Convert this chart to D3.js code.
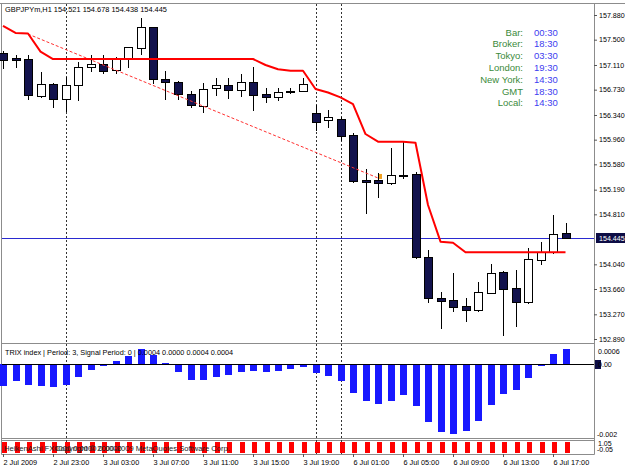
<!DOCTYPE html>
<html>
<head>
<meta charset="utf-8">
<script src="https://cdn.jsdelivr.net/npm/d3@7"></script>
<style>
  body { margin: 0; background: #fff; }
  svg { display: block; font-family: "Liberation Sans", Arial, sans-serif; }
</style>
</head>
<body>
<div id="chart"></div>
<script>
// GBPJPYm H1 bars, 2 Jul 2009 19:00 .. 6 Jul 2009 17:00
const opens  = [157.295,157.225,157.202,156.632,156.817,156.586,156.797,157.074,157.125,157.022,
                157.213,157.367,157.691,156.894,156.848,156.659,156.483,156.751,156.797,156.720,
                156.844,156.659,156.612,156.717,156.710,156.366,156.252,156.278,156.032,155.339,
                155.339,155.288,155.390,155.431,154.148,153.526,153.491,153.398,153.337,153.603,
                153.927,153.671,153.455,154.107,154.225,154.521];
const highs  = [157.326,157.264,157.264,156.998,156.837,156.930,157.151,157.264,157.264,157.238,
                157.387,157.829,157.700,157.022,156.864,156.710,156.828,156.905,156.905,156.971,
                157.074,156.760,156.751,156.751,156.905,156.494,156.417,156.309,156.058,155.504,
                155.442,155.827,155.944,155.467,154.261,153.618,153.902,153.517,153.773,154.045,
                153.942,153.953,154.287,154.389,154.800,154.678];
const lows   = [157.064,157.084,156.582,156.612,156.458,156.401,156.571,157.022,156.982,156.982,
                157.084,157.275,156.828,156.586,156.586,156.458,156.382,156.648,156.597,156.632,
                156.417,156.545,156.571,156.683,156.702,156.109,156.150,155.955,155.313,154.835,
                155.072,155.280,155.377,154.140,153.464,153.055,153.321,153.172,153.326,153.598,
                152.952,153.090,153.452,154.041,154.220,154.438];
const closes = [157.187,157.195,156.648,156.817,156.586,156.797,157.074,157.125,157.017,157.213,
                157.383,157.691,156.890,156.844,156.663,156.483,156.745,156.797,156.725,156.844,
                156.648,156.606,156.694,156.705,156.817,156.228,156.305,156.021,155.323,155.313,
                155.288,155.411,155.411,154.148,153.517,153.480,153.388,153.337,153.609,153.911,
                153.660,153.455,154.118,154.235,154.503,154.445];

// red stop line
const stopLine = [157.711,157.603,157.595,157.315,157.202,157.202,157.202,157.202,157.202,157.202,
                  157.202,157.202,157.202,157.202,157.202,157.202,157.202,157.202,157.202,157.202,
                  157.202,157.110,157.044,157.022,157.022,156.740,156.686,156.612,156.509,156.047,
                  155.929,155.929,155.929,155.913,154.954,154.389,154.373,154.225,154.225,154.225,
                  154.225,154.225,154.225,154.225,154.225,154.225];

// dashed trend line: [bar, price]
const trendLine = [[2, 157.587], [30, 155.370]];

// TRIX histogram
const trixValues = [-0.00073,-0.00058,-0.00071,-0.00073,-0.00079,-0.00070,-0.00045,-0.00020,-0.00008, 0.00010,
                     0.00028, 0.00051, 0.00030, 0.00003,-0.00026,-0.00053,-0.00053,-0.00045,-0.00036,-0.00026,
                    -0.00024,-0.00026,-0.00024,-0.00017,-0.00009,-0.00029,-0.00041,-0.00058,-0.00099,-0.00124,
                    -0.00135,-0.00124,-0.00104,-0.00143,-0.00196,-0.00228,-0.00236,-0.00225,-0.00191,-0.00139,
                    -0.00101,-0.00087,-0.00047,-0.00008, 0.00034, 0.00053];

const priceTicks = [157.880,157.500,157.110,156.730,156.340,155.960,155.580,155.190,154.810,154.040,153.660,153.270,152.890];
const timeLabels = ["2 Jul 2009","2 Jul 23:00","3 Jul 03:00","3 Jul 07:00","3 Jul 11:00","3 Jul 15:00",
                    "3 Jul 19:00","6 Jul 01:00","6 Jul 05:00","6 Jul 09:00","6 Jul 13:00","6 Jul 17:00"];
const labelBars = [0,4,8,12,16,20,24,28,32,36,40,44];
const separatorBars = [5, 25, 27];

const clockNames = ["Bar:","Broker:","Tokyo:","London:","New York:","GMT","Local:"];
const clockTimes = ["00:30","18:30","03:30","19:30","14:30","18:30","14:30"];

document.addEventListener("DOMContentLoaded", function() {

  const width = 625;
  const height = 469;
  const plotRight = 594;

  const svg = d3.select('#chart').append('svg')
    .attr('width', width)
    .attr('height', height);

  const x = d3.scaleLinear().domain([0, 45]).range([3, 565.5]);
  const y = d3.scaleLinear().domain([152.89, 157.88]).range([339, 15]);
  const yT = d3.scaleLinear().domain([-0.00245, 0.00065]).range([437, 345]);

  const px = i => Math.round(x(i)) + 0.5;
  const bars = d3.range(opens.length);

  //-------------------------FRAMES-------------------------
  const frame = svg.append('g').attr('fill', 'none').attr('stroke', '#8c8c8c');
  frame.append('line').attr('x1', 0).attr('x2', width).attr('y1', 3.5).attr('y2', 3.5);
  frame.append('line').attr('x1', 1.5).attr('x2', 1.5).attr('y1', 3.5).attr('y2', 454.5);
  frame.append('line').attr('x1', plotRight + 0.5).attr('x2', plotRight + 0.5).attr('y1', 3.5).attr('y2', 454.5);
  [343.5, 438.5, 440.5, 454.5].forEach(v => {
    frame.append('line').attr('x1', 1.5).attr('x2', plotRight + 0.5).attr('y1', v).attr('y2', v);
  });

  // period separators
  svg.append('g')
    .selectAll('line')
    .data(separatorBars)
    .join('line')
    .attr('x1', d => px(d)).attr('x2', d => px(d))
    .attr('y1', 4).attr('y2', 454)
    .attr('stroke', '#333')
    .attr('stroke-dasharray', '2,2');

  //-------------------------MAIN PANEL-------------------------
  const main = svg.append('g');

  // current price line
  main.append('line')
    .attr('x1', 2).attr('x2', plotRight)
    .attr('y1', Math.round(y(closes[45])) + 0.5).attr('y2', Math.round(y(closes[45])) + 0.5)
    .attr('stroke', '#2a2ad0');

  const candles = main.append('g').selectAll('g').data(bars).join('g');

  candles.append('line')
    .attr('x1', d => px(d)).attr('x2', d => px(d))
    .attr('y1', d => Math.round(y(highs[d]))).attr('y2', d => Math.round(y(lows[d])) + 1)
    .attr('stroke', '#000');

  candles.append('rect')
    .attr('x', d => px(d) - 4)
    .attr('width', 8)
    .attr('y', d => Math.round(y(Math.max(opens[d], closes[d]))) + 0.5)
    .attr('height', d => Math.max(1, Math.round(Math.abs(y(opens[d]) - y(closes[d])))))
    .attr('fill', d => closes[d] >= opens[d] ? '#fff' : '#12124d')
    .attr('stroke', '#000');

  // dashed trend line
  main.append('line')
    .attr('x1', x(trendLine[0][0])).attr('y1', y(trendLine[0][1]))
    .attr('x2', x(trendLine[1][0])).attr('y2', y(trendLine[1][1]))
    .attr('stroke', '#ff3030')
    .attr('stroke-dasharray', '3,2');

  main.append('rect')
    .attr('x', x(30) + 1).attr('y', y(trendLine[1][1]) - 4)
    .attr('width', 3).attr('height', 5)
    .attr('fill', '#f0a020');

  // red stop line
  main.append('path')
    .datum(stopLine)
    .attr('fill', 'none')
    .attr('stroke', '#ff0000')
    .attr('stroke-width', 2)
    .attr('stroke-linejoin', 'round')
    .attr('d', d3.line().x((d, i) => x(i)).y(d => y(d)));

  main.append('text')
    .attr('x', 5).attr('y', 12)
    .attr('font-size', '7.4px')
    .text('GBPJPYm,H1  154.521 154.678 154.438 154.445');

  // clock table
  const clock = main.append('g').attr('font-size', '9.5px');
  clock.selectAll('text.name')
    .data(clockNames)
    .join('text')
    .attr('class', 'name')
    .attr('x', 523).attr('y', (d, i) => 35.5 + i * 11.8)
    .attr('text-anchor', 'end')
    .attr('fill', '#3b8a3b')
    .text(d => d);
  clock.selectAll('text.time')
    .data(clockTimes)
    .join('text')
    .attr('class', 'time')
    .attr('x', 534).attr('y', (d, i) => 35.5 + i * 11.8)
    .attr('fill', '#4040f0')
    .text(d => d);

  // price axis
  const yAxis = svg.append('g')
    .attr('transform', `translate(${plotRight},0)`)
    .call(d3.axisRight(y).tickValues(priceTicks).tickFormat(d3.format('.3f')).tickSize(3));
  yAxis.select('.domain').remove();
  yAxis.selectAll('text').attr('font-size', '7.1px').attr('font-family', '"Liberation Sans", Arial, sans-serif').attr('x', 5);
  yAxis.selectAll('line').attr('stroke', '#555');

  const lastY = Math.round(y(closes[45]));
  svg.append('rect')
    .attr('x', 596).attr('y', lastY - 5)
    .attr('width', 29).attr('height', 10)
    .attr('fill', '#0d0d45');
  svg.append('text')
    .attr('x', 599).attr('y', lastY + 3)
    .attr('font-size', '7.1px')
    .attr('fill', '#fff')
    .text(d3.format('.3f')(closes[45]));

  //-------------------------TRIX PANEL-------------------------
  const trix = svg.append('g');

  trix.selectAll('rect')
    .data(trixValues)
    .join('rect')
    .attr('x', (d, i) => Math.round(x(i)) - 3)
    .attr('width', 7)
    .attr('y', d => Math.round(yT(Math.max(0, d))))
    .attr('height', d => Math.max(1, Math.round(Math.abs(yT(d) - yT(0)))))
    .attr('fill', '#1818ff');

  trix.append('line')
    .attr('x1', 2).attr('x2', plotRight)
    .attr('y1', Math.round(yT(0)) + 0.5).attr('y2', Math.round(yT(0)) + 0.5)
    .attr('stroke', '#000');

  trix.append('text')
    .attr('x', 5).attr('y', 355)
    .attr('font-size', '7.3px')
    .text('TRIX index | Period: 3, Signal Period: 0 | 0.0004 0.0000 0.0004 0.0004');

  const trixLabels = svg.append('g').attr('font-size', '7.1px');
  trixLabels.append('text').attr('x', 598).attr('y', 354).text('0.0006');
  trixLabels.append('rect').attr('x', 595).attr('y', Math.round(yT(0)) - 4).attr('width', 6).attr('height', 9).attr('fill', '#0d0d45');
  trixLabels.append('text').attr('x', 598).attr('y', Math.round(yT(0)) + 3).text('0.00');
  trixLabels.append('text').attr('x', 597).attr('y', 437).text('-0.002');

  //-------------------------STRIP PANEL-------------------------
  svg.append('g')
    .selectAll('rect')
    .data(bars)
    .join('rect')
    .attr('x', d => Math.round(x(d)) - 1)
    .attr('width', 5)
    .attr('y', 442).attr('height', 11)
    .attr('fill', '#ff0000');

  const stripText = svg.append('g').attr('font-size', '7.6px').attr('fill', '#222');
  stripText.append('text').attr('x', 4).attr('y', 451).text('HeikenAshi FX0000  0.0000 0.0000');
  stripText.append('text').attr('x', 55).attr('y', 451).text('Copyright \u00a9 2000-2009 MetaQuotes Software Corp.');

  const stripLabels = svg.append('g').attr('font-size', '7px');
  stripLabels.append('text').attr('x', 598).attr('y', 446).text('1.05');
  stripLabels.append('text').attr('x', 597).attr('y', 452).text('-0.05');

  //-------------------------TIME AXIS-------------------------
  const xAxis = svg.append('g')
    .attr('transform', 'translate(0,454)')
    .call(d3.axisBottom(x).tickValues(labelBars).tickFormat((d, i) => timeLabels[i]).tickSize(3));
  xAxis.select('.domain').remove();
  xAxis.selectAll('line').attr('stroke', '#555');
  xAxis.selectAll('text')
    .attr('font-size', '7.3px')
    .attr('font-family', '"Liberation Sans", Arial, sans-serif')
    .attr('text-anchor', 'start')
    .attr('x', 0)
    .attr('y', 6);
});
</script>
</body>
</html>
